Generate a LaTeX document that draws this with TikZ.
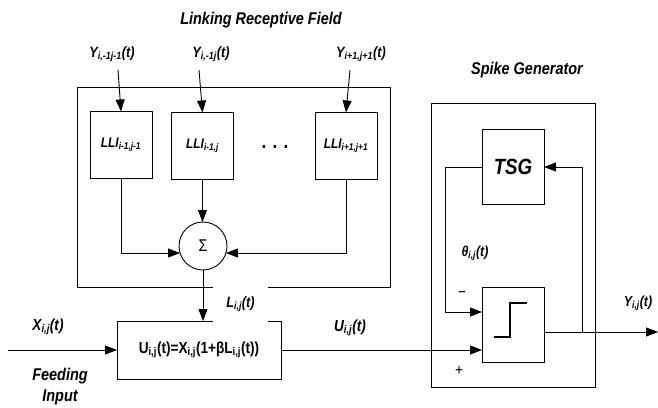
\documentclass[tikz,border=0pt]{standalone}
\usepackage{fontspec}
\setmainfont{Liberation Sans}[FakeStretch=0.85]
\usepackage{tikz}
\usetikzlibrary{positioning, arrows.meta, calc}

\newcommand{\sbs}[1]{\textsubscript{#1}}
\newcommand{\fsz}[1]{\fontsize{#1}{#1}\selectfont}

\begin{document}
\begin{tikzpicture}[
  x=1pt, y=-1pt,
  font=\fsz{15}\bfseries\itshape,
  frame/.style={draw, line width=0.9pt, inner sep=0pt, outer sep=0pt},
  llibox/.style={frame, minimum width=62pt, minimum height=67pt, font=\fsz{14}\bfseries\itshape},
  sgbox/.style={frame, minimum width=62pt, minimum height=75pt},
  sumnode/.style={draw, circle, line width=0.9pt, minimum size=48pt, inner sep=0pt, outer sep=0pt,
    font=\fsz{17}\normalfont},
  arr/.style={-{Triangle[length=12pt, width=9pt]}, line width=0.9pt},
  wire/.style={line width=0.9pt},
  lbl/.style={inner sep=1pt},
  title/.style={inner sep=1pt, font=\fsz{17}\bfseries\itshape},
  sgn/.style={inner sep=0pt, font=\fsz{16}\normalfont}
]
  \useasboundingbox (0,0) rectangle (658,407);

  % Linking receptive field
  \node[frame, minimum width=313pt, minimum height=200pt] (linkfield) at (233.5,187) {};
  \node[title] (linktitle) at (261,20) {Linking Receptive Field};

  \node[llibox] (lli1) at (121,145) {LLI\sbs{i-1,j-1}};
  \node[llibox] (lli2) at (202.5,146) {LLI\sbs{i-1,j}};
  \node[llibox] (lli3) at (346,146) {LLI\sbs{i+1,j+1}};
  \node[lbl, font=\fsz{20}\bfseries] (dots) at (275,147) {. . .};

  \node[sumnode] (sigma) at (203,246) {Σ};

  % Eingaenge der Nachbarn
  \coordinate (yin1) at (118,70);
  \coordinate (yin2) at (199,70);
  \coordinate (yin3) at (350,70);
  \node[lbl] (ylbl1) at (112,54) {Y\sbs{i,-1j-1}(t)};
  \node[lbl] (ylbl2) at (211,54) {Y\sbs{i,-1j}(t)};
  \node[lbl] (ylbl3) at (361,54) {Y\sbs{i+1,j+1}(t)};

  % Feeding / Modulation
  \node[frame, minimum width=164pt, minimum height=58pt, font=\fsz{16}\bfseries] (ubox) at (199,350)
    {U\sbs{i,j}(t)=X\sbs{i,j}(1+βL\sbs{i,j}(t))};
  \coordinate (feedin) at (8,350);
  \node[lbl, font=\fsz{16}\bfseries\itshape] (xlbl) at (48,327) {X\sbs{i,j}(t)};
  \node[lbl, align=center, font=\fontsize{17}{21}\selectfont\bfseries\itshape] (feedlbl) at (60,387) {Feeding\\Input};
  \node[lbl, font=\fsz{16}\bfseries\itshape] (ulbl) at (350,328) {U\sbs{i,j}(t)};

  % Spike generator
  \node[frame, minimum width=164pt, minimum height=284pt] (spikegen) at (513,245) {};
  \node[title] (spiketitle) at (527,70) {Spike Generator};
  \node[sgbox, font=\fsz{22}\bfseries\itshape] (tsg) at (513,167) {TSG};
  \node[sgbox] (step) at (513,324.5) {};
  \draw[line width=1.3pt] (494,337) -- (510,337) -- (510,303) -- (527,303);

  \coordinate (stepout) at ($(step.east)+(0,7.5)$);
  \coordinate (fbr) at (582,167);
  \coordinate (fbl) at (445,167);
  \coordinate (yout) at (658,332);
  \node[lbl, font=\fsz{14.5}\bfseries\itshape] (thetalbl) at (475,253) {θ\sbs{i,j}(t)};
  \node[lbl, font=\fsz{14.5}\bfseries\itshape] (youtlbl) at (638,303) {Y\sbs{i,j}(t)};
  \node[sgn] (minus) at (462,295) {−};
  \node[sgn] (plus) at (459,371) {+};

  % Verbindungen
  \draw[arr] (yin1) -- (lli1.north);
  \draw[arr] (yin2) -- (lli2.north);
  \draw[arr] (yin3) -- (lli3.north);
  \draw[arr] (lli1.south) |- (sigma.197);
  \draw[arr] (lli2.south) -- (lli2.south |- sigma.north);
  \draw[arr] (lli3.south) |- (sigma.-17);
  \draw[arr] (sigma.south) -- (sigma.south |- ubox.north);
  \node[lbl, fill=white, minimum width=55pt, minimum height=35pt] (llbl) at (240.5,304) {L\sbs{i,j}(t)};

  \draw[arr] (feedin) -- (ubox.west);
  \draw[arr] (ubox.east) -- (ubox.east -| step.west);
  \draw[arr] (stepout) -- (yout);
  \draw[wire] (stepout) -| (fbr);
  \draw[arr] (fbr) -- (tsg.east);
  \draw[wire] (tsg.west) -- (fbl);
  \draw[arr] (fbl) |- ($(step.west)+(0,-12.5)$);
\end{tikzpicture}
\end{document}
